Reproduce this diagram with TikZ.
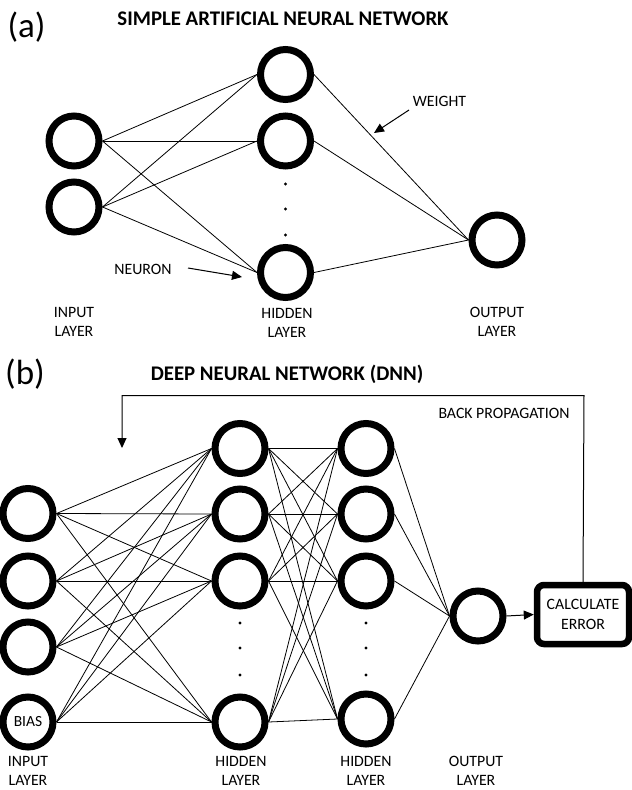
\documentclass[tikz,border=0pt]{standalone}
\usepackage{fontspec}
\setmainfont{Carlito}
\usetikzlibrary{arrows.meta}
\begin{document}
\begin{tikzpicture}[x=1pt,y=-1pt,
  neuron/.style={circle,draw,line width=7pt,minimum size=50pt,inner sep=0pt,font=\fontsize{15.5}{18}\selectfont},
  conn/.style={line width=0.8pt},
  lbl/.style={font=\fontsize{15.8}{19.5}\selectfont,align=center,inner sep=0pt,anchor=north},
  lblb/.style={font=\fontsize{15.8}{19}\selectfont,align=center,inner sep=0pt,anchor=north},
  ttl/.style={font=\fontsize{20.8}{24}\selectfont\bfseries,inner sep=0pt,anchor=north},
  tag/.style={font=\fontsize{35}{38}\selectfont,inner sep=0pt},
  note/.style={font=\fontsize{15.8}{19.5}\selectfont,inner sep=0pt},
  arr/.style={line width=1pt,-{Triangle[length=10pt,width=9pt]}},
  errbox/.style={draw,line width=6.5pt,rounded corners=7pt,minimum width=92pt,minimum height=59pt,inner sep=0pt,align=center,font=\fontsize{15.8}{20}\selectfont}]
\useasboundingbox (0,0) rectangle (632,790);

% ---------- (a) ----------
\node[tag] (taga) at (26.5,27.5) {(a)};
\node[ttl] (titlea) at (283,12) {SIMPLE ARTIFICIAL NEURAL NETWORK};

\node[neuron] (i1) at (74,141) {};
\node[neuron] (i2) at (74,207) {};
\node[neuron] (h1) at (285.5,74.5) {};
\node[neuron] (h2) at (285.5,141) {};
\node[neuron] (h3) at (285.5,272.5) {};
\node[neuron] (o) at (497,240) {};

\foreach \i in {i1,i2}
  \foreach \h in {h1,h2,h3}
    \draw[conn] (\i.east) -- (\h.west);
\foreach \h in {h1,h2,h3}
  \draw[conn] (\h.east) -- (o.west);

\foreach \y in {184,209,235}
  \fill (285.5,\y) circle (1.7);

\node[lbl] (la1) at (74,307) {INPUT\\LAYER};
\node[lbl] (la2) at (287,308) {HIDDEN\\LAYER};
\node[lbl] (la3) at (497,307) {OUTPUT\\LAYER};

\node[note] (neuron) at (143,269) {NEURON};
\coordinate (ns) at (188,268);
\coordinate (ne) at (242,277);
\draw[arr] (ns) -- (ne);

\node[note] (weight) at (439.5,101) {WEIGHT};
\coordinate (ws) at (409,110);
\coordinate (we) at (374,133);
\draw[arr] (ws) -- (we);

% ---------- (b) ----------
\node[tag] (tagb) at (25,374) {(b)};
\node[ttl] (titleb) at (287,365) {DEEP NEURAL NETWORK (DNN)};

\node[neuron] (a1) at (28,513.5) {};
\node[neuron] (a2) at (28,581) {};
\node[neuron] (a3) at (28,647) {};
\node[neuron] (a4) at (28,722) {BIAS};

\node[neuron] (b1) at (240,448.5) {};
\node[neuron] (b2) at (240,514) {};
\node[neuron] (b3) at (240,581) {};
\node[neuron] (b4) at (240,722) {};

\node[neuron] (c1) at (366,448.5) {};
\node[neuron] (c2) at (366,514) {};
\node[neuron] (c3) at (366,581) {};
\node[neuron] (c4) at (366,719) {};

\node[neuron] (out) at (478,616) {};
\node[errbox] (err) at (583,614.5) {CALCULATE\\ERROR};

\foreach \a in {a1,a2,a3,a4}
  \foreach \b in {b1,b2,b3,b4}
    \draw[conn] (\a.east) -- (\b.west);
\foreach \b in {b1,b2,b3,b4}
  \foreach \c in {c1,c2,c3,c4}
    \draw[conn] (\b.east) -- (\c.west);
\foreach \c in {c1,c2,c3,c4}
  \draw[conn] (\c.east) -- (out.west);

\foreach \x in {240,366}
  \foreach \y in {623,648,675}
    \fill (\x,\y) circle (1.7);

\draw[arr] (out.east) -- (err.west);
\coordinate (bpr) at (584,395.5);
\coordinate (bpl) at (122,395.5);
\coordinate (bpe) at (122,448);
\draw[arr] (err.north) -- (bpr) -- (bpl) -- (bpe);
\node[note,anchor=north] (bp) at (504,408) {BACK PROPAGATION};

\node[lblb] (lb1) at (28,756) {INPUT\\LAYER};
\node[lblb] (lb2) at (241,756) {HIDDEN\\LAYER};
\node[lblb] (lb3) at (366,756) {HIDDEN\\LAYER};
\node[lblb] (lb4) at (476,756) {OUTPUT\\LAYER};
\end{tikzpicture}
\end{document}
